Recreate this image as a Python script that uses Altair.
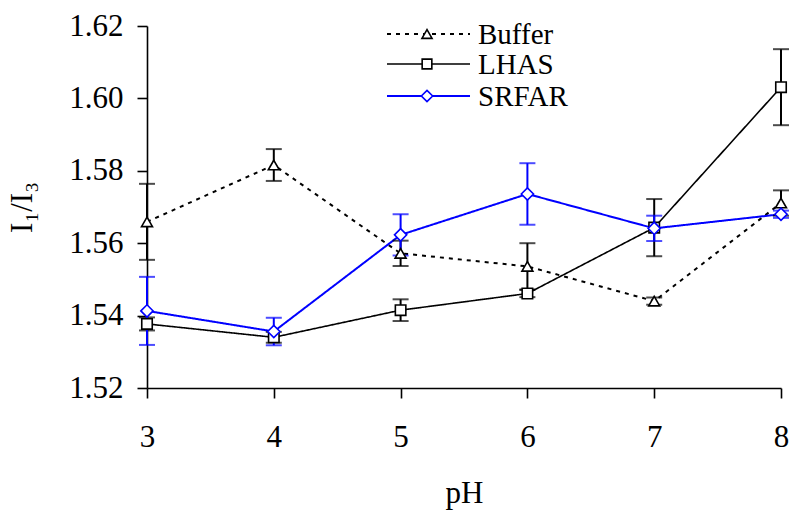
import altair as alt
import pandas as pd

# pH series and measured I1/I3 ratios with their error half-widths
ph = [3, 4, 5, 6, 7, 8]
series_names = ["Buffer", "LHAS", "SRFAR"]
buffer_vals = [1.5659, 1.5816, 1.5572, 1.5536, 1.5440, 1.5711]
buffer_err = [0.0105, 0.0044, 0.0035, 0.0064, 0.0010, 0.0035]
lhas_vals = [1.5377, 1.5340, 1.5415, 1.5461, 1.5643, 1.6031]
lhas_err = [0.0018, 0.0015, 0.0030, 0.0010, 0.0079, 0.0105]
srfar_vals = [1.5413, 1.5356, 1.5623, 1.5736, 1.5641, 1.5680]
srfar_err = [0.0094, 0.0038, 0.0057, 0.0085, 0.0035, 0.0010]
y_ticks = [1.52, 1.54, 1.56, 1.58, 1.60, 1.62]

FONT = "Liberation Serif"


def frame(name, vals, errs):
    return pd.DataFrame({
        "pH": ph,
        "ratio": vals,
        "lo": [v - e for v, e in zip(vals, errs)],
        "hi": [v + e for v, e in zip(vals, errs)],
        "series": name,
    })


frames = {
    "Buffer": frame("Buffer", buffer_vals, buffer_err),
    "LHAS": frame("LHAS", lhas_vals, lhas_err),
    "SRFAR": frame("SRFAR", srfar_vals, srfar_err),
}

styles = {
    "Buffer": dict(color="black", dash=[4, 5], width=2, shape="triangle-up", size=120),
    "LHAS": dict(color="black", dash=[1, 0], width=1.6, shape="square", size=110),
    "SRFAR": dict(color="#0000ff", dash=[1, 0], width=2, shape="diamond", size=150),
}

x_enc = alt.X("pH:Q", scale=alt.Scale(domain=[3, 8], nice=False, zero=False),
              axis=alt.Axis(values=ph, title="pH", format="d", labelPadding=24,
                            labelFlush=False, titlePadding=26))
y_enc = alt.Y("ratio:Q", scale=alt.Scale(domain=[1.52, 1.62], nice=False, zero=False),
              axis=alt.Axis(values=y_ticks, format=".2f", title="I₁/I₃",
                            labelFlush=False, labelPadding=14, titlePadding=30))

lines, bars, points = [], [], []
for name in series_names:
    df, st = frames[name], styles[name]
    base = alt.Chart(df)
    lines.append(base.mark_line(color=st["color"], strokeDash=st["dash"],
                                strokeWidth=st["width"]).encode(x=x_enc, y=y_enc))
    bars.append(base.mark_rule(color=st["color"], strokeWidth=2).encode(
        x="pH:Q", y="lo:Q", y2="hi:Q"))
    bars.append(base.mark_tick(color=st["color"], thickness=2, size=16,
                               orient="horizontal").encode(x="pH:Q", y="lo:Q"))
    bars.append(base.mark_tick(color=st["color"], thickness=2, size=16,
                               orient="horizontal").encode(x="pH:Q", y="hi:Q"))
    points.append(base.mark_point(shape=st["shape"], size=st["size"], filled=True,
                                  fill="white", stroke=st["color"], strokeWidth=1.6,
                                  opacity=1).encode(x="pH:Q", y="ratio:Q"))

# Legend block drawn in the upper middle of the plot
legend_layers = []
legend_rows = {"Buffer": 34, "LHAS": 64, "SRFAR": 96}
for name in series_names:
    st = styles[name]
    row = legend_rows[name] - 26
    one = alt.Chart(pd.DataFrame({"series": [name]}))
    legend_layers.append(one.mark_rule(color=st["color"], strokeDash=st["dash"],
                                       strokeWidth=st["width"]).encode(
        x=alt.value(240), x2=alt.value(323), y=alt.value(row)))
    legend_layers.append(one.mark_point(shape=st["shape"], size=st["size"] * 0.85,
                                        filled=True, fill="white", stroke=st["color"],
                                        strokeWidth=1.6, opacity=1).encode(
        x=alt.value(280), y=alt.value(row)))
    legend_layers.append(one.mark_text(align="left", baseline="middle", font=FONT,
                                       fontSize=29, color="black").encode(
        x=alt.value(331), y=alt.value(row + 1), text="series:N"))

chart = alt.layer(*lines, *bars, *points, *legend_layers).properties(
    width=634, height=362,
    autosize=alt.AutoSizeParams(type="none"),
    padding={"left": 147, "top": 26, "right": 8, "bottom": 124},
    background="white",
).configure_view(stroke=None).configure_axis(
    grid=False, domainColor="black", domainWidth=1.6, tickColor="black",
    tickWidth=1.6, tickSize=10, labelFont=FONT, labelFontSize=31,
    labelColor="black", titleFont=FONT, titleFontSize=31, titleFontWeight="normal",
    titleColor="black",
)

chart.save("out.html", embed_options={"renderer": "svg", "actions": False})
